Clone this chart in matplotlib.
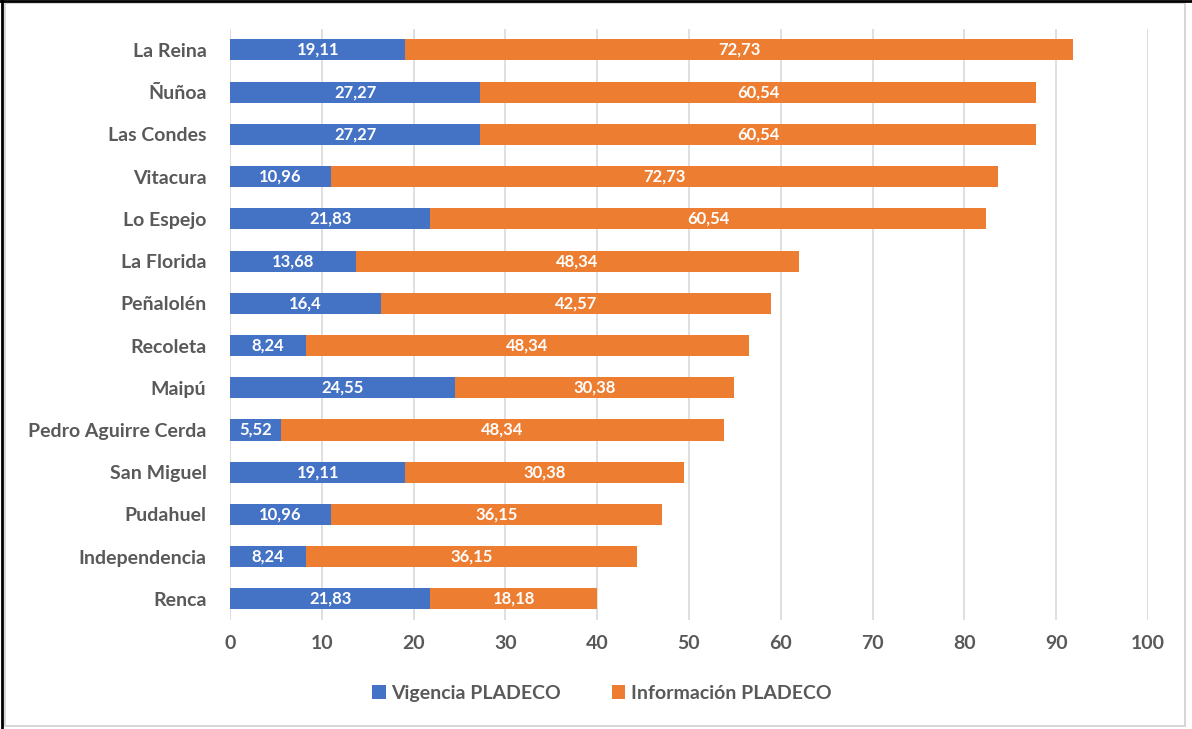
import matplotlib.pyplot as plt
from matplotlib.patches import Rectangle
from matplotlib.lines import Line2D

comunas = ['La Reina', 'Ñuñoa', 'Las Condes', 'Vitacura', 'Lo Espejo', 'La Florida',
           'Peñalolén', 'Recoleta', 'Maipú', 'Pedro Aguirre Cerda', 'San Miguel',
           'Pudahuel', 'Independencia', 'Renca']
vigencia = [19.11, 27.27, 27.27, 10.96, 21.83, 13.68, 16.4, 8.24, 24.55, 5.52,
            19.11, 10.96, 8.24, 21.83]
informacion = [72.73, 60.54, 60.54, 72.73, 60.54, 48.34, 42.57, 48.34, 30.38, 48.34,
               30.38, 36.15, 36.15, 18.18]
xticks = list(range(0, 101, 10))

AZUL = '#4472c4'
NARANJA = '#ed7d31'
GRIS = '#595959'

plt.rcParams['font.family'] = ['Lato', 'DejaVu Sans']

fig = plt.figure(figsize=(11.92, 7.29), dpi=100)
ax = fig.add_axes([0.193, 0.1495, 0.770, 0.811])

y = list(range(len(comunas)))
ax.barh(y, vigencia, height=0.5, color=AZUL, label='Vigencia PLADECO', zorder=3)
ax.barh(y, informacion, left=vigencia, height=0.5, color=NARANJA,
        label='Información PLADECO', zorder=3)

def fmt(v):
    return ('%g' % v).replace('.', ',')

for yi, v, w in zip(y, vigencia, informacion):
    ax.text(v / 2, yi, fmt(v), ha='center', va='center', color='white',
            fontsize=12, fontweight='bold', zorder=4)
    ax.text(v + w / 2, yi, fmt(w), ha='center', va='center', color='white',
            fontsize=12, fontweight='bold', zorder=4)

ax.set_ylim(len(comunas) - 0.5, -0.5)
ax.set_xlim(0, 100)
ax.set_xticks(xticks)
ax.set_yticks(y)
ax.set_yticklabels(comunas)
ax.tick_params(length=0, colors=GRIS, labelsize=14, pad=17)
ax.tick_params(axis='x', pad=11)
for lab in ax.get_xticklabels() + ax.get_yticklabels():
    lab.set_fontweight('bold')
ax.grid(axis='x', color='#d9d9d9', linewidth=1.2, zorder=0)
for s in ax.spines.values():
    s.set_visible(False)

h, l = ax.get_legend_handles_labels()
fig.legend(h, l, loc='center', bbox_to_anchor=(0.505, 0.049), ncol=2, frameon=False,
           handlelength=0.7, handleheight=0.7, handletextpad=0.3,
           columnspacing=2.6, labelcolor=GRIS,
           prop={'weight': 'bold', 'size': 14})

# marco exterior
fig.patches.append(Rectangle((0.004, 0.004), 0.99, 0.992, transform=fig.transFigure,
                             fill=False, edgecolor='#d0d0d0', linewidth=1.2))
fig.lines.append(Line2D([0.0015, 0.0015], [0, 0.998], transform=fig.transFigure,
                        color='black', linewidth=2))
fig.lines.append(Line2D([0, 1], [0.998, 0.998], transform=fig.transFigure,
                        color='black', linewidth=2))

fig.savefig('out.png', dpi=100, facecolor='white')
